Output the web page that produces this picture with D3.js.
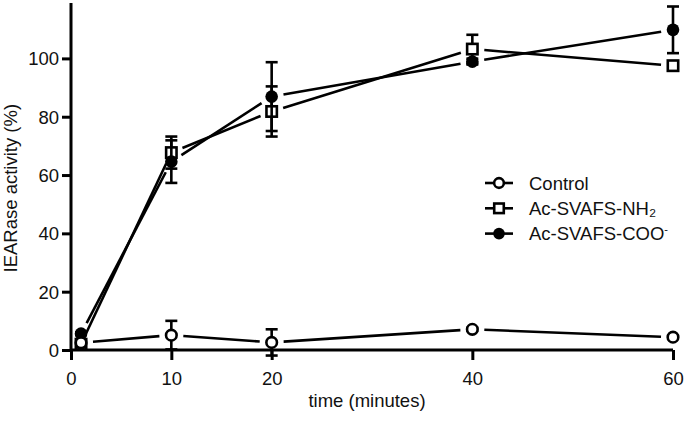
<!DOCTYPE html>
<html>
<head>
<meta charset="utf-8">
<script src="https://cdn.jsdelivr.net/npm/d3@7/dist/d3.min.js"></script>
<style>
  html, body { margin: 0; padding: 0; background: #fff; }
  svg { display: block; }
  text { font-family: "Liberation Sans", Arial, sans-serif; fill: #111; }
</style>
</head>
<body>
<svg id="chart" width="685" height="421"></svg>
<script>
// ---- data ----
const times = [1, 10, 20, 40, 60];
const controlValues = [2.5, 5.1, 2.6, 7.1, 4.4];
const controlErrors = [0.5, 4.9, 4.5, 0.5, 0.5];
const nh2Values = [2.0, 67.7, 81.8, 103.2, 97.5];
const nh2Errors = [0.5, 5.5, 8.6, 4.9, 1.0];
const cooValues = [5.6, 64.6, 86.9, 98.9, 109.8];
const cooErrors = [0.5, 7.3, 11.8, 1.0, 8.0];
const xTicks = [0, 10, 20, 40, 60];
const yTicks = [0, 20, 40, 60, 80, 100];
const seriesNames = ["Control", "Ac-SVAFS-NH\u2082", "Ac-SVAFS-COO"];
const xTitle = "time (minutes)";
const yTitle = "IEARase activity (%)";

// ---- layout ----
const W = 685, H = 421;
const m = { left: 71, right: 12, top: 3, bottom: 71 };
const svg = d3.select("#chart");
const x = d3.scaleLinear().domain([0, 60]).range([m.left, W - m.right]);
const y = d3.scaleLinear().domain([0, 119]).range([H - m.bottom, m.top]);
const SW = 2.6;

// axes
const xAxis = svg.append("g").attr("transform", `translate(0,${y(0)})`)
  .call(d3.axisBottom(x).tickValues(xTicks).tickSize(10).tickSizeOuter(0).tickPadding(12));
const yAxis = svg.append("g").attr("transform", `translate(${x(0)},0)`)
  .call(d3.axisLeft(y).tickValues(yTicks).tickSize(9).tickSizeOuter(0).tickPadding(3));
[xAxis, yAxis].forEach(a => {
  a.select(".domain").attr("stroke", "#000").attr("stroke-width", 3);
  a.selectAll(".tick line").attr("stroke", "#000").attr("stroke-width", 3);
  a.selectAll(".tick text").attr("font-size", 18.5).attr("fill", "#111")
    .style("font-family", '"Liberation Sans", Arial, sans-serif');
});
xAxis.select(".domain").attr("d", `M${x(0)},0H${x(60)}`);
yAxis.select(".domain").attr("d", `M0,${y(0)}V${y(119)}`);
yAxis.selectAll(".tick text").attr("dy", "0.35em");

// titles
svg.append("text").attr("x", x(29.5)).attr("y", 407).attr("text-anchor", "middle")
  .attr("font-size", 18.5).text(xTitle);
svg.append("text").attr("transform", `translate(17,${y(55.5)}) rotate(-90)`)
  .attr("text-anchor", "middle").attr("font-size", 18.5).text(yTitle);

// series
const series = [
  { name: seriesNames[1], vals: nh2Values, errs: nh2Errors, shape: "square" },
  { name: seriesNames[2], vals: cooValues, errs: cooErrors, shape: "filled" },
  { name: seriesNames[0], vals: controlValues, errs: controlErrors, shape: "open" }
];

function drawMarker(g, cx, cy, shape, scale) {
  const s = scale || 1;
  if (shape === "square") {
    const h = 5.2 * s;
    g.append("rect").attr("x", cx - h).attr("y", cy - h).attr("width", 2 * h).attr("height", 2 * h)
      .attr("fill", "#fff").attr("stroke", "#000").attr("stroke-width", SW);
  } else if (shape === "filled") {
    g.append("circle").attr("cx", cx).attr("cy", cy).attr("r", 6.3 * s).attr("fill", "#000");
  } else {
    g.append("circle").attr("cx", cx).attr("cy", cy).attr("r", 5.3 * s)
      .attr("fill", "#fff").attr("stroke", "#000").attr("stroke-width", SW);
  }
}

const gap = 12;
const layers = series.map(() => svg.append("g"));
series.forEach((s, si) => {
  const g = layers[si];
  const pts = times.map((t, i) => [x(t), y(s.vals[i])]);
  // connecting segments with gaps near symbols
  for (let i = 0; i < pts.length - 1; i++) {
    const [x1, y1] = pts[i], [x2, y2] = pts[i + 1];
    const dx = x2 - x1, dy = y2 - y1, L = Math.hypot(dx, dy);
    const ux = dx / L, uy = dy / L;
    g.append("line")
      .attr("x1", x1 + ux * gap).attr("y1", y1 + uy * gap)
      .attr("x2", x2 - ux * gap).attr("y2", y2 - uy * gap)
      .attr("stroke", "#000").attr("stroke-width", SW);
  }
  // error bars
  times.forEach((t, i) => {
    const cx = x(t), top = y(s.vals[i] + s.errs[i]), bot = y(s.vals[i] - s.errs[i]);
    g.append("line").attr("x1", cx).attr("x2", cx).attr("y1", top).attr("y2", bot)
      .attr("stroke", "#000").attr("stroke-width", SW);
    [top, bot].forEach(yy => g.append("line").attr("x1", cx - 6).attr("x2", cx + 6)
      .attr("y1", yy).attr("y2", yy).attr("stroke", "#000").attr("stroke-width", SW));
  });
  // markers
  pts.forEach(([px, py]) => drawMarker(g, px, py, s.shape));
});

// legend
const legendRows = [
  { name: seriesNames[0], shape: "open" },
  { name: seriesNames[1], shape: "square" },
  { name: seriesNames[2], shape: "filled", sup: "-" }
];
const leg = svg.append("g");
legendRows.forEach((r, i) => {
  const cy = 183 + i * 25.3;
  leg.append("line").attr("x1", 485).attr("x2", 513).attr("y1", cy).attr("y2", cy)
    .attr("stroke", "#000").attr("stroke-width", SW);
  drawMarker(leg, 499, cy, r.shape, 0.92);
  const t = leg.append("text").attr("x", 529).attr("y", cy + 6.5).attr("font-size", 18.5).text(r.name);
  if (r.sup) t.append("tspan").attr("font-size", 11).attr("dy", -7).text(r.sup);
});
</script>
</body>
</html>
